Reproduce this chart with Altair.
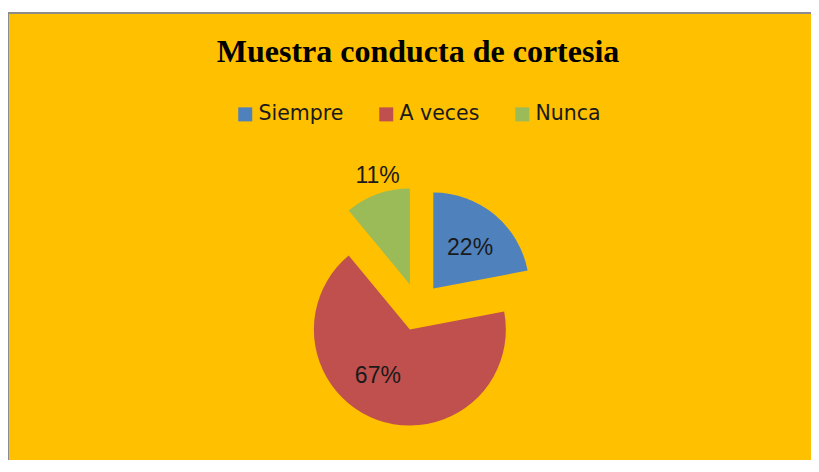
import math
import altair as alt
import pandas as pd

categories = ["Siempre", "A veces", "Nunca"]
values = [22, 67, 11]
labels = ["22%", "67%", "11%"]
colors = ["#4F81BD", "#C0504D", "#9BBB59"]
title_text = "Muestra conducta de cortesia"

df = pd.DataFrame({"cat": categories, "value": values, "label": labels,
                   "order": list(range(len(categories)))})
total = sum(values)

W, H = 803, 452
CX, CY = 410, 299
R = 96
EXPLODE = 24
label_r = [53, 62, 113]
label_dxdy = [(3, 0), (-11, -12), (6, -2)]

theta_scale = alt.Scale(domain=[0, total], range=[0, 2 * math.pi])
color_enc = alt.Color(
    "cat:N",
    scale=alt.Scale(domain=categories, range=colors),
    sort=categories,
    legend=alt.Legend(
        title=None, orient="none", direction="horizontal",
        legendX=227, legendY=96, symbolType="square", symbolSize=196,
        symbolStrokeWidth=0, labelFontSize=20.5, labelFont="DejaVu Sans",
        labelColor="#1a1a1a", labelOffset=3, columnPadding=32,
        symbolOpacity=1, padding=0,
    ),
)

base = alt.Chart(df).transform_window(
    end="sum(value)", frame=[None, 0], sort=[alt.SortField("order")]
).transform_calculate(
    start="datum.end - datum.value",
    mid="datum.end - datum.value / 2",
)

frame = alt.Chart(pd.DataFrame({"k": [0]})).mark_rect(
    fill="#FFC000", stroke="#8C8C8C", strokeWidth=2
).encode(x=alt.value(0), x2=alt.value(W + 20), y=alt.value(5), y2=alt.value(H + 40))

title = alt.Chart(pd.DataFrame({"t": [title_text]})).mark_text(
    font="Liberation Serif", fontSize=32, fontWeight="bold", color="black",
    align="center", baseline="alphabetic",
).encode(text="t:N", x=alt.value(410), y=alt.value(54))

layers = [frame, title]
cum = 0
for i, c in enumerate(categories):
    mid = (cum + values[i] / 2) / total * 2 * math.pi
    cum += values[i]
    ox = EXPLODE * math.sin(mid)
    oy = -EXPLODE * math.cos(mid)
    sub = base.transform_filter(alt.datum.cat == c)
    arc = sub.mark_arc(outerRadius=R, xOffset=ox, yOffset=oy, stroke=None).encode(
        theta=alt.Theta("start:Q", scale=theta_scale),
        theta2="end:Q",
        color=color_enc,
        x=alt.value(CX), y=alt.value(CY),
    )
    dx, dy = label_dxdy[i]
    txt = sub.mark_text(
        font="Liberation Sans", fontSize=23, color="#1a1a1a",
        align="center", baseline="middle", xOffset=ox + dx, yOffset=oy + dy,
    ).encode(
        theta=alt.Theta("mid:Q", scale=theta_scale),
        radius=alt.value(label_r[i]),
        text="label:N",
        x=alt.value(CX), y=alt.value(CY),
    )
    layers += [arc, txt]

chart = alt.layer(*layers).properties(
    width=W, height=H, background="white", padding=0,
    autosize=alt.AutoSizeParams(type="none"),
).configure_view(stroke=None)

chart.save("out.html", embed_options={"renderer": "svg", "actions": False})
